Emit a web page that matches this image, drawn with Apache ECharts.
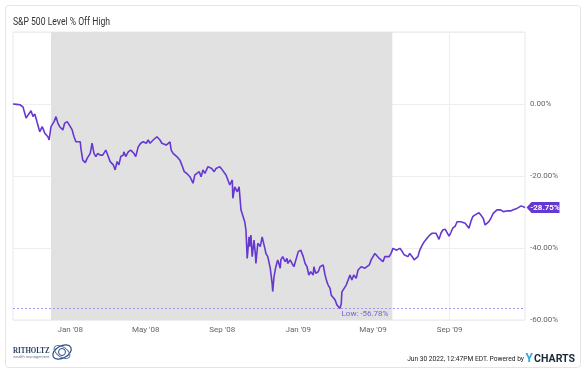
<!DOCTYPE html>
<html><head><meta charset="utf-8">
<script src="https://cdn.jsdelivr.net/npm/echarts@6/dist/echarts.min.js"></script>
<style>html,body{margin:0;padding:0;background:#fff}#c{width:585px;height:372px}</style>
</head><body><div id="c"></div>
<script>
const chartTitle = 'S&P 500 Level % Off High';
const dates = [
'2007-10-01','2007-10-07','2007-10-12','2007-10-17','2007-10-22','2007-10-25','2007-10-30','2007-11-02','2007-11-05','2007-11-09',
'2007-11-13','2007-11-17','2007-11-21','2007-11-26','2007-11-28','2007-12-01','2007-12-06','2007-12-09','2007-12-12','2007-12-15',
'2007-12-20','2007-12-23','2007-12-27','2008-01-01','2008-01-04','2008-01-07','2008-01-10','2008-01-13','2008-01-17','2008-01-18',
'2008-01-21','2008-01-25','2008-01-28','2008-02-02','2008-02-05','2008-02-08','2008-02-11','2008-02-14','2008-02-18','2008-02-22',
'2008-02-27','2008-03-02','2008-03-05','2008-03-10','2008-03-13','2008-03-16','2008-03-19','2008-03-22','2008-03-26','2008-03-27',
'2008-03-30','2008-04-03','2008-04-07','2008-04-12','2008-04-15','2008-04-19','2008-04-23','2008-04-27','2008-05-02','2008-05-05',
'2008-05-08','2008-05-13','2008-05-16','2008-05-19','2008-05-24','2008-05-27','2008-05-30','2008-06-03','2008-06-06','2008-06-09',
'2008-06-11','2008-06-14','2008-06-17','2008-06-20','2008-06-25','2008-06-28','2008-07-02','2008-07-06','2008-07-11','2008-07-16',
'2008-07-19','2008-07-22','2008-07-26','2008-07-29','2008-08-01','2008-08-04','2008-08-09','2008-08-12','2008-08-15','2008-08-19',
'2008-08-22','2008-08-25','2008-08-28','2008-09-01','2008-09-04','2008-09-07','2008-09-10','2008-09-13','2008-09-17','2008-09-18',
'2008-09-21','2008-09-25','2008-09-28','2008-10-01','2008-10-04','2008-10-07','2008-10-09','2008-10-11','2008-10-14','2008-10-15',
'2008-10-17','2008-10-19','2008-10-22','2008-10-24','2008-10-25','2008-10-28','2008-11-01','2008-11-04','2008-11-05','2008-11-09',
'2008-11-10','2008-11-13','2008-11-17','2008-11-20','2008-11-21','2008-11-23','2008-11-26','2008-11-29','2008-12-03','2008-12-04',
'2008-12-07','2008-12-11','2008-12-14','2008-12-15','2008-12-19','2008-12-22','2008-12-25','2008-12-28','2009-01-01','2009-01-05',
'2009-01-09','2009-01-12','2009-01-15','2009-01-18','2009-01-21','2009-01-25','2009-01-26','2009-01-29','2009-02-02','2009-02-05',
'2009-02-08','2009-02-10','2009-02-13','2009-02-16','2009-02-18','2009-02-21','2009-02-23','2009-02-26','2009-03-01','2009-03-04',
'2009-03-09','2009-03-11','2009-03-12','2009-03-15','2009-03-19','2009-03-22','2009-03-25','2009-03-28','2009-03-31','2009-04-04',
'2009-04-07','2009-04-12','2009-04-15','2009-04-18','2009-04-21','2009-04-25','2009-04-28','2009-05-01','2009-05-04','2009-05-07',
'2009-05-11','2009-05-14','2009-05-17','2009-05-20','2009-05-23','2009-05-27','2009-05-30','2009-06-02','2009-06-05','2009-06-08',
'2009-06-13','2009-06-17','2009-06-20','2009-06-23','2009-06-26','2009-06-29','2009-07-03','2009-07-06','2009-07-09','2009-07-12',
'2009-07-15','2009-07-19','2009-07-22','2009-07-25','2009-07-28','2009-07-31','2009-08-04','2009-08-07','2009-08-10','2009-08-13',
'2009-08-15','2009-08-18','2009-08-21','2009-08-25','2009-08-28','2009-08-31','2009-09-03','2009-09-06','2009-09-10','2009-09-13',
'2009-09-16','2009-09-19','2009-09-22','2009-09-26','2009-09-29','2009-10-02','2009-10-05','2009-10-08','2009-10-12','2009-10-15',
'2009-10-18','2009-10-21','2009-10-25','2009-10-28','2009-10-31','2009-11-03','2009-11-06','2009-11-10','2009-11-13','2009-11-16',
'2009-11-19','2009-11-22','2009-11-26','2009-11-29','2009-12-02','2009-12-05','2009-12-08','2009-12-12','2009-12-15','2009-12-18',
'2009-12-21','2009-12-25','2009-12-28','2009-12-31'
];
const pctOffHigh = [
0,-0.1,-0.2,-0.8,-3.9,-3.1,-1.9,-3.5,-2.8,-5.3,
-7.7,-6.3,-8.1,-9.1,-10.0,-6.3,-4.9,-3.5,-5.3,-6.3,
-7.2,-5.3,-4.9,-6.3,-7.2,-9.1,-10.5,-10.0,-10.5,-12.3,
-15.6,-16.3,-15.1,-13.7,-10.9,-13.7,-14.6,-13.7,-14.2,-14.2,
-12.8,-14.6,-16.0,-16.9,-18.3,-16.0,-16.9,-14.6,-14.2,-13.3,
-14.6,-13.3,-12.8,-13.7,-14.6,-11.9,-10.9,-10.5,-10.9,-10.0,
-10.9,-10.0,-9.5,-9.1,-10.0,-10.9,-10.5,-11.4,-10.9,-10.5,
-12.8,-13.7,-13.3,-14.6,-15.6,-16.9,-18.8,-19.3,-20.2,-22.0,
-19.7,-19.3,-18.8,-20.2,-18.3,-19.3,-17.4,-16.9,-17.9,-18.8,
-17.9,-18.3,-17.4,-18.3,-18.8,-19.7,-20.2,-22.5,-21.1,-26.2,
-23.0,-24.4,-23.0,-29.4,-29.0,-32.7,-35.0,-42.9,-36.9,-39.6,
-36.4,-42.4,-37.8,-41.5,-44.3,-38.7,-39.6,-36.9,-36.4,-40.6,
-41.5,-42.4,-45.6,-49.8,-52.1,-48.0,-45.2,-43.3,-45.6,-43.3,
-42.4,-43.8,-42.9,-44.3,-43.3,-44.3,-45.2,-44.7,-41.0,-40.6,
-42.4,-44.3,-45.2,-47.5,-46.6,-47.5,-45.2,-47.0,-46.6,-45.2,
-45.2,-44.7,-47.5,-49.4,-50.3,-51.2,-53.1,-52.6,-54.4,-55.8,
-56.78,-55.5,-52.2,-52.1,-50.3,-50.7,-47.5,-48.9,-47.5,-48.4,
-46.1,-45.2,-45.6,-45.6,-46.1,-44.7,-43.3,-42.4,-41.5,-41.9,
-42.9,-42.9,-43.8,-42.4,-42.9,-42.4,-41.5,-40.1,-40.1,-40.6,
-40.1,-41.0,-41.9,-42.4,-42.4,-41.5,-42.4,-43.3,-43.8,-42.4,
-40.6,-39.2,-38.3,-37.8,-37.0,-36.4,-35.9,-36.4,-35.9,-36.9,
-37.6,-35.9,-35.0,-34.8,-35.0,-36.7,-35.7,-34.5,-33.9,-32.7,
-32.2,-32.7,-32.2,-33.1,-33.6,-34.5,-32.7,-31.3,-30.8,-30.4,
-30.2,-30.8,-31.8,-33.6,-33.9,-32.7,-31.8,-30.4,-29.9,-29.4,
-29.9,-29.4,-29.9,-29.4,-29.7,-29.4,-29.7,-29.4,-29.6,-29.0,
-28.5,-28.3,-28.7,-28.75
];
const recession = ['2007-12-01', '2009-06-01'];
const xRange = ['2007-10-01', '2009-12-31'];
const xTickDates = ['2008-01-01','2008-05-01','2008-09-01','2009-01-01','2009-05-01','2009-09-01'];
const yTicks = [20, 0, -20, -40, -60];
const lowDate = '2009-03-09';
const lowValue = -56.78;
const lastValue = -28.75;
const footerText = 'Jun 30 2022, 12:47PM EDT. Powered by';
const MONTHS = ['Jan','Feb','Mar','Apr','May','Jun','Jul','Aug','Sep','Oct','Nov','Dec'];

function ts(s) { const p = s.split('-').map(Number); return new Date(p[0], p[1] - 1, p[2]).getTime(); }
const tickTs = xTickDates.map(ts);
const purple = '#6638d2';

const chart = echarts.init(document.getElementById('c'), null, { renderer: 'canvas' });
chart.setOption({
  animation: false,
  backgroundColor: '#fff',
  textStyle: { fontFamily: 'Roboto' },
  grid: { left: 13, right: 60, top: 32, bottom: 52, show: true, borderColor: '#e8e8e8', borderWidth: 1 },
  xAxis: {
    type: 'value', min: ts(xRange[0]), max: ts(xRange[1]),
    axisLine: { show: false }, axisTick: { show: false, customValues: tickTs },
    splitLine: { show: true, lineStyle: { color: '#eeeeee', width: 1 } },
    axisLabel: {
      customValues: tickTs, color: '#666', fontSize: 8, margin: 6, hideOverlap: false,
      formatter: function (v) { const d = new Date(v); return MONTHS[d.getMonth()] + " '" + String(d.getFullYear()).slice(2); }
    }
  },
  yAxis: {
    type: 'value', position: 'right', min: yTicks[yTicks.length - 1], max: yTicks[0], interval: 20,
    axisLine: { show: false }, axisTick: { show: false },
    splitLine: { show: true, lineStyle: { color: '#eeeeee', width: 1 } },
    axisLabel: {
      color: '#666', fontSize: 8, margin: 5, padding: [0, 0, 5, 0],
      formatter: function (v) { return v > 0 ? '' : v.toFixed(2) + '%'; }
    }
  },
  series: [{
    type: 'line', name: 'S&P 500 Level % Off High',
    data: dates.map(function (d, i) { return [ts(d), pctOffHigh[i]]; }),
    showSymbol: false, symbol: 'none', clip: false,
    lineStyle: { color: purple, width: 1.6 }, z: 3,
    markArea: {
      silent: true, itemStyle: { color: '#e1e1e1' },
      data: [[{ xAxis: ts(recession[0]) }, { xAxis: ts(recession[1]) }]]
    },
    markLine: {
      silent: true, symbol: 'none', animation: false,
      lineStyle: { type: [2, 2], color: '#a996ea', width: 1 },
      label: { show: false },
      data: [{ yAxis: lowValue }]
    },
    markPoint: {
      silent: true, animation: false,
      data: [
        {
          coord: [ts(lowDate), lowValue], symbol: 'circle', symbolSize: 1,
          itemStyle: { color: 'rgba(0,0,0,0)' },
          label: { show: true, position: 'right', distance: 0, offset: [1, 6], color: '#7b61d8', fontSize: 8,
                   formatter: 'Low: ' + lowValue.toFixed(2) + '%' }
        },
        {
          coord: [ts(dates[dates.length - 1]), lastValue],
          symbol: 'path://M0,5.5L5,0L33,0L33,11L5,11Z', symbolSize: [33, 11], symbolOffset: [18, 0],
          itemStyle: { color: purple },
          label: { show: true, position: 'inside', offset: [2, 0], color: '#fff', fontSize: 8, fontWeight: 'bold',
                   formatter: lastValue.toFixed(2) + '%' }
        }
      ]
    }
  }],
  graphic: [
    { type: 'rect', z: -10, silent: true, shape: { x: 5.5, y: 5.5, width: 575, height: 362, r: 3 },
      style: { fill: 'none', stroke: '#e4e4e4', lineWidth: 1 } },
    { type: 'text', x: 13, y: 22, scaleX: 0.82, silent: true,
      style: { text: chartTitle, fontSize: 10.5, fontFamily: 'Roboto', fill: '#333', verticalAlign: 'middle', align: 'left' } },
    { type: 'text', x: 524, y: 359, scaleX: 0.83, silent: true,
      style: { text: footerText, fontSize: 8, fontFamily: 'Roboto', fill: '#222', verticalAlign: 'middle', align: 'right' } },
    { type: 'text', x: 525.5, y: 358.5, silent: true,
      style: { text: 'Y', fontSize: 12, fontWeight: 'bold', fontFamily: 'Roboto', fill: '#29a8e0', verticalAlign: 'middle', align: 'left' } },
    { type: 'text', x: 534, y: 359, scaleX: 1.06, silent: true,
      style: { text: 'CHARTS', fontSize: 10, fontWeight: 'bold', fontFamily: 'Roboto', fill: '#1b2a3a', verticalAlign: 'middle', align: 'left' } },
    { type: 'text', x: 13, y: 351, scaleX: 0.82, silent: true,
      style: { text: 'RITHOLTZ', fontSize: 8.5, fontWeight: 'bold', fontFamily: 'Liberation Serif', fill: '#1f3a5f', verticalAlign: 'middle', align: 'left' } },
    { type: 'text', x: 13, y: 357, silent: true,
      style: { text: 'wealth management', fontSize: 4, fontFamily: 'Roboto', fill: '#6b7c93', verticalAlign: 'middle', align: 'left' } },
    { type: 'ellipse', x: 62, y: 352, rotation: 0.5, silent: true, shape: { cx: 0, cy: 0, rx: 10, ry: 6 },
      style: { fill: 'none', stroke: '#2b4a7a', lineWidth: 1.2 } },
    { type: 'ellipse', x: 62, y: 352, rotation: -0.6, silent: true, shape: { cx: 0, cy: 0, rx: 9, ry: 5 },
      style: { fill: 'none', stroke: '#4a78b5', lineWidth: 1 } },
    { type: 'circle', x: 62, y: 352, silent: true, shape: { cx: 0, cy: 0, r: 3.5 },
      style: { fill: 'none', stroke: '#2b4a7a', lineWidth: 1 } }
  ]
});
</script>
</body></html>
